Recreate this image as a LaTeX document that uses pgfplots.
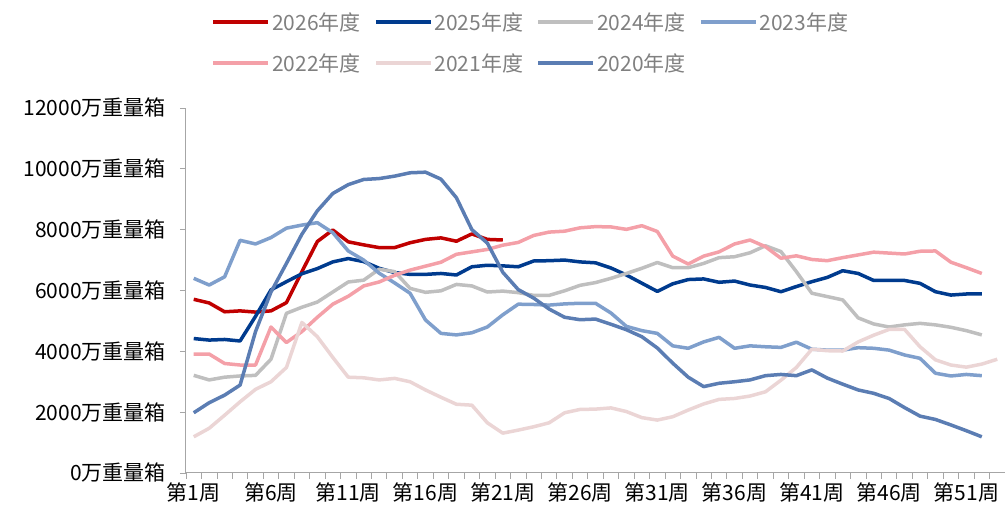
\documentclass[border=0pt]{standalone}
\usepackage{fontspec}
\setmainfont{Noto Sans CJK SC}
\usepackage{pgfplots}
\pgfplotsset{compat=1.18}
\definecolor{c26}{HTML}{C00000}
\definecolor{c25}{HTML}{003B8E}
\definecolor{c24}{HTML}{BFBFBF}
\definecolor{c23}{HTML}{7F9FCC}
\definecolor{c22}{HTML}{F4A0A8}
\definecolor{c21}{HTML}{EBD5D5}
\definecolor{c20}{HTML}{5B7DB3}
\definecolor{axgray}{HTML}{A6A6A6}
\definecolor{legtxt}{HTML}{808080}
\newcommand{\lab}[1]{\makebox[100pt][l]{#1}}
\begin{document}
\begin{tikzpicture}
\begin{axis}[
  scale only axis, width=819pt, height=365pt,
  xmin=0.5, xmax=53.5, ymin=0, ymax=12000,
  scaled y ticks=false,
  axis x line*=bottom, axis y line*=left,
  axis line style={axgray, line width=1pt},
  tick align=outside,
  major tick length=6pt, minor tick length=6pt,
  tick style={axgray, line width=0.8pt},
  xtick={1,6,11,16,21,26,31,36,41,46,51},
  xticklabels={第1周,第6周,第11周,第16周,第21周,第26周,第31周,第36周,第41周,第46周,第51周},
  major x tick style={draw=none},
  minor xtick={0.5,1.5,...,53.5},
  ytick={0,2000,4000,6000,8000,10000,12000},
  yticklabels={0万重量箱,2000万重量箱,4000万重量箱,6000万重量箱,8000万重量箱,10000万重量箱,12000万重量箱},
  yticklabel style={font=\fontsize{21pt}{24pt}\selectfont, text=black, inner sep=0pt, xshift=-14pt},
  xticklabel style={font=\fontsize{21pt}{24pt}\selectfont, text=black, inner sep=0pt, yshift=-4pt},
  legend columns=4,
  legend style={at={(0.031,1.268)}, anchor=north west, draw=none, fill=none,
    font=\fontsize{21pt}{24pt}\selectfont, text=legtxt, row sep=18pt, inner sep=0pt},
  legend image code/.code={\draw[#1, line width=3.5pt] (0pt,0pt) -- (55pt,0pt);},
  legend cell align=left,
  every axis plot/.append style={line width=3.5pt, line join=round, no markers},
]
\addplot[c26] coordinates {(1,5710)(2,5590)(3,5300)(4,5330)(5,5290)(6,5330)(7,5600)(8,6620)(9,7610)(10,7990)(11,7600)(12,7500)(13,7410)(14,7410)(15,7570)(16,7680)(17,7730)(18,7620)(19,7860)(20,7680)(21,7660)};
\addlegendentry{\lab{2026年度}}
\addplot[c25] table[x expr=\coordindex+1, y index=0] {
4420
4370
4390
4340
5150
6020
6290
6550
6720
6940
7050
6950
6730
6590
6530
6530
6560
6510
6780
6830
6810
6780
6970
6980
7000
6940
6910
6740
6510
6240
5970
6220
6360
6380
6270
6310
6180
6100
5960
6130
6290
6430
6650
6560
6330
6330
6330
6235
5960
5850
5885
5885
};
\addlegendentry{\lab{2025年度}}
\addplot[c24] table[x expr=\coordindex+1, y index=0] {
3210
3060
3150
3190
3210
3740
5250
5450
5620
5950
6280
6340
6700
6620
6070
5940
5990
6200
6150
5950
5980
5930
5840
5840
5990
6170
6260
6400
6560
6730
6920
6750
6750
6890
7080
7110
7240
7470
7280
6620
5910
5800
5690
5100
4900
4800
4870
4920
4870
4790
4680
4540
};
\addlegendentry{\lab{2024年度}}
\addplot[c23] table[x expr=\coordindex+1, y index=0] {
6400
6180
6450
7650
7530
7740
8050
8150
8230
7900
7300
7000
6570
6250
5910
5030
4590
4540
4610
4800
5200
5550
5540
5520
5560
5580
5580
5260
4820
4680
4590
4180
4100
4310
4460
4100
4180
4150
4130
4300
4070
4040
4040
4120
4100
4040
3880
3770
3280
3190
3240
3200
};
\addlegendentry{\lab{2023年度}}
\addplot[c22] table[x expr=\coordindex+1, y index=0] {
3910
3910
3600
3550
3550
4800
4290
4650
5120
5550
5810
6150
6280
6500
6670
6800
6930
7190
7270
7350
7490
7580
7810
7920
7950
8060
8100
8090
8010
8130
7940
7130
6870
7130
7270
7530
7660
7440
7060
7140
7020
6980
7080
7170
7260
7230
7200
7290
7300
6930
6750
6560
};
\addlegendentry{\lab{2022年度}}
\addplot[c21] table[x expr=\coordindex+1, y index=0] {
1190
1470
1900
2340
2750
3000
3470
4950
4480
3800
3150
3130
3060
3110
3000
2730
2490
2260
2230
1650
1310
1410
1520
1650
1980
2090
2100
2140
2020
1820
1740
1850
2070
2270
2420
2450
2530
2670
3050
3470
4070
4020
4010
4310
4530
4720
4720
4150
3720
3550
3480
3580
3740
};
\addlegendentry{\lab{2021年度}}
\addplot[c20] table[x expr=\coordindex+1, y index=0] {
1980
2310
2560
2890
4650
5950
6890
7850
8620
9190
9480
9650
9680
9760
9870
9890
9660
9050
8000
7560
6600
6030
5750
5390
5120
5040
5060
4890
4710
4480
4110
3610
3150
2840
2950
3000
3060
3200
3240
3200
3390
3120
2920
2730
2620
2450
2150
1870
1760
1580
1390
1190
};
\addlegendentry{\lab{2020年度}}
\end{axis}
\pgfresetboundingbox
\path[use as bounding box] (current axis.south west) ++(-186pt,-41pt) rectangle ++(1005pt,514pt);
\end{tikzpicture}
\end{document}
